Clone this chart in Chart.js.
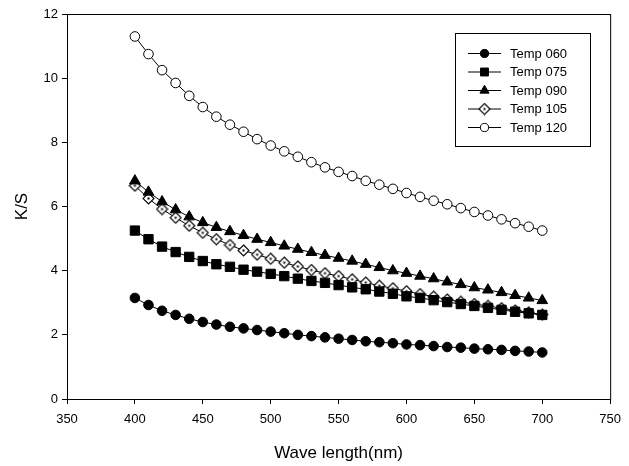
<!DOCTYPE html>
<html>
<head>
  <title>K/S vs Wave length</title>
  <script src="https://cdn.jsdelivr.net/npm/chart.js"></script>
  <style>
    body { margin: 0; background: #fff; }
    #wrap { width: 629px; height: 466px; }
  </style>
</head>
<body>
  <div id="wrap"><canvas id="ksChart" width="629" height="466"></canvas></div>
  <script>
    const wavelengths = [400, 410, 420, 430, 440, 450, 460, 470, 480, 490, 500, 510, 520, 530, 540, 550,
                         560, 570, 580, 590, 600, 610, 620, 630, 640, 650, 660, 670, 680, 690, 700];
    const temp060 = [3.15, 2.93, 2.75, 2.62, 2.50, 2.40, 2.32, 2.25, 2.20, 2.15, 2.10, 2.05, 2.00, 1.96, 1.92, 1.88,
                     1.84, 1.80, 1.77, 1.74, 1.70, 1.68, 1.65, 1.62, 1.60, 1.57, 1.55, 1.53, 1.50, 1.48, 1.45];
    const temp075 = [5.25, 4.98, 4.75, 4.58, 4.43, 4.30, 4.20, 4.12, 4.03, 3.97, 3.90, 3.83, 3.75, 3.68, 3.62, 3.55,
                     3.48, 3.42, 3.35, 3.28, 3.20, 3.15, 3.08, 3.02, 2.96, 2.90, 2.84, 2.78, 2.72, 2.67, 2.62];
    const temp090 = [6.80, 6.45, 6.15, 5.90, 5.68, 5.50, 5.35, 5.22, 5.10, 4.98, 4.88, 4.77, 4.67, 4.57, 4.48, 4.39,
                     4.30, 4.20, 4.10, 4.00, 3.92, 3.83, 3.75, 3.65, 3.57, 3.47, 3.40, 3.32, 3.23, 3.15, 3.07];
    const temp105 = [6.65, 6.25, 5.92, 5.65, 5.40, 5.18, 4.98, 4.80, 4.63, 4.50, 4.37, 4.25, 4.13, 4.02, 3.92, 3.83,
                     3.73, 3.63, 3.53, 3.45, 3.36, 3.27, 3.19, 3.10, 3.03, 2.96, 2.90, 2.83, 2.76, 2.70, 2.63];
    const temp120 = [11.30, 10.75, 10.25, 9.85, 9.45, 9.10, 8.80, 8.55, 8.33, 8.10, 7.90, 7.72, 7.55, 7.38, 7.22, 7.08,
                     6.95, 6.80, 6.68, 6.55, 6.42, 6.30, 6.18, 6.07, 5.95, 5.83, 5.72, 5.60, 5.48, 5.37, 5.25];
    const seriesNames = ['Temp 060', 'Temp 075', 'Temp 090', 'Temp 105', 'Temp 120'];
    const xTicks = [350, 400, 450, 500, 550, 600, 650, 700, 750];
    const yTicks = [0, 2, 4, 6, 8, 10, 12];

    // diamond with a dot in the middle
    function makeDiamond() {
      const c = document.createElement('canvas');
      c.width = 13; c.height = 13;
      const g = c.getContext('2d');
      g.beginPath();
      g.moveTo(6.5, 1); g.lineTo(12, 6.5); g.lineTo(6.5, 12); g.lineTo(1, 6.5);
      g.closePath();
      g.fillStyle = '#fff'; g.fill();
      g.lineWidth = 1.1; g.strokeStyle = '#000'; g.stroke();
      g.fillStyle = '#000';
      g.fillRect(5.5, 5.5, 2, 2);
      return c;
    }
    const diamond = makeDiamond();

    const styles = [
      { pointStyle: 'circle', radius: 4.8, fill: '#000' },
      { pointStyle: 'rect', radius: 6.6, fill: '#000' },
      { pointStyle: 'triangle', radius: 6.2, fill: '#000' },
      { pointStyle: diamond, radius: 6, fill: '#fff' },
      { pointStyle: 'circle', radius: 4.8, fill: '#fff' }
    ];
    const values = [temp060, temp075, temp090, temp105, temp120];

    const datasets = values.map((v, i) => ({
      label: seriesNames[i],
      data: wavelengths.map((w, j) => ({ x: w, y: v[j] })),
      showLine: true,
      borderColor: '#000',
      borderWidth: 1,
      pointStyle: styles[i].pointStyle,
      pointRadius: styles[i].radius,
      pointBackgroundColor: styles[i].fill,
      pointBorderColor: '#000',
      pointBorderWidth: 1
    }));

    const frameAndLegend = {
      id: 'frameAndLegend',
      afterDraw(chart) {
        const ctx = chart.ctx;
        const a = chart.chartArea;
        ctx.save();
        ctx.strokeStyle = '#000';
        ctx.lineWidth = 1;
        ctx.strokeRect(a.left + 0.5, a.top + 0.5, a.right - a.left, a.bottom - a.top);

        // legend box
        const bx = 455, by = 33, bw = 135, bh = 113;
        ctx.fillStyle = '#fff';
        ctx.fillRect(bx, by, bw, bh);
        ctx.strokeRect(bx + 0.5, by + 0.5, bw, bh);
        ctx.font = '13px "Liberation Sans", Arial, sans-serif';
        ctx.textBaseline = 'middle';
        seriesNames.forEach((name, i) => {
          const y = 53 + i * 18.5;
          ctx.beginPath();
          ctx.moveTo(468, y + 0.5);
          ctx.lineTo(501, y + 0.5);
          ctx.stroke();
          ctx.fillStyle = styles[i].fill;
          Chart.helpers.drawPoint(ctx, {
            pointStyle: styles[i].pointStyle,
            radius: styles[i].radius * 0.85,
            borderWidth: 1
          }, 484.5, y + 0.5);
          ctx.fillStyle = '#000';
          ctx.textAlign = 'left';
          ctx.fillText(name, 510, y + 1);
        });
        ctx.restore();
      }
    };

    const tickFont = { family: '"Liberation Sans", Arial, sans-serif', size: 13 };

    new Chart(document.getElementById('ksChart'), {
      type: 'scatter',
      data: { datasets: datasets },
      plugins: [frameAndLegend],
      options: {
        responsive: false,
        animation: false,
        layout: { padding: { left: 0, right: 18, top: 14, bottom: 0 } },
        plugins: { legend: { display: false }, tooltip: { enabled: false } },
        scales: {
          x: {
            type: 'linear',
            min: 350, max: 750,
            afterBuildTicks: s => { s.ticks = xTicks.map(v => ({ value: v })); },
            ticks: { color: '#000', font: tickFont, padding: 8, maxRotation: 0 },
            grid: { drawOnChartArea: false, tickLength: 5, color: '#000' },
            border: { display: true, color: '#000' },
            title: { display: true, text: 'Wave length(nm)', color: '#000',
                     font: { family: '"Liberation Sans", Arial, sans-serif', size: 17 }, padding: { top: 10, bottom: 2 } },
            afterFit: s => { s.height = 67; }
          },
          y: {
            min: 0, max: 12,
            afterBuildTicks: s => { s.ticks = yTicks.map(v => ({ value: v })); },
            ticks: { color: '#000', font: tickFont, padding: 4 },
            grid: { drawOnChartArea: false, tickLength: 5, color: '#000' },
            border: { display: true, color: '#000' },
            title: { display: true, text: 'K/S', color: '#000',
                     font: { family: '"Liberation Sans", Arial, sans-serif', size: 17 }, padding: { top: 12, bottom: 4 } },
            afterFit: s => { s.width = 67; }
          }
        }
      }
    });
  </script>
</body>
</html>
